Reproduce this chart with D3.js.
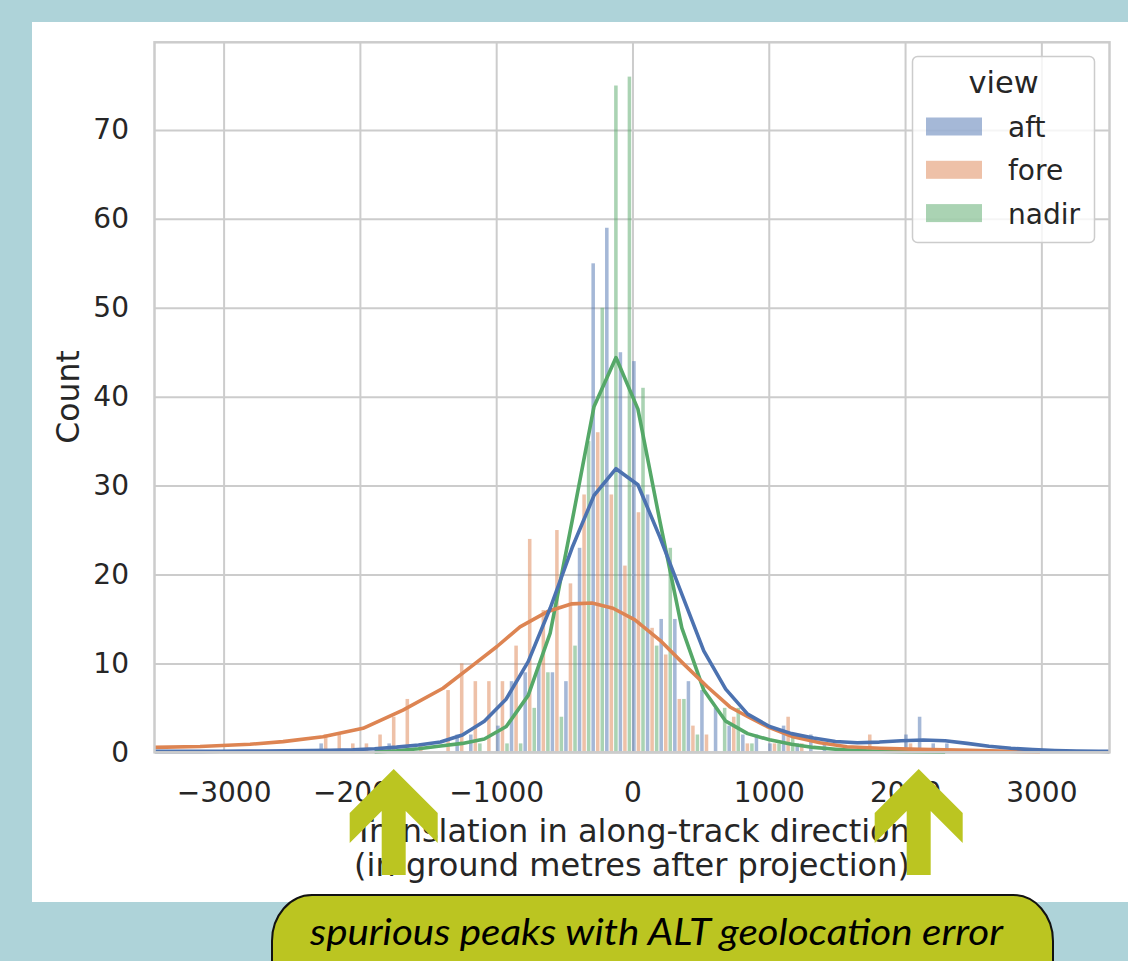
<!DOCTYPE html>
<html>
<head>
<meta charset="utf-8">
<script src="https://cdn.jsdelivr.net/npm/d3@7"></script>
<style>
  body { margin: 0; background: #aed3d9; }
  #chart { width: 1128px; height: 961px; }
</style>
</head>
<body>
<div id="chart"></div>
<script>
// histogram bins (left edges, ground metres) shared by the three views
let views = ["aft", "fore", "nadir"];
let binEdges = [-2301, -2201, -2102, -2002, -1902, -1802, -1702, -1602, -1503, -1403,
  -1303, -1203, -1103, -1004, -904, -804, -704, -604, -505, -405,
  -305, -205, -105, -6, 94, 194, 294, 394, 493, 593,
  693, 793, 893, 992, 1092, 1192, 1292, 1392, 1491, 1591,
  1691, 1791, 1891, 1990, 2090, 2190, 2290, 2390];

let aftCounts = [1, 0, 0, 0, 0, 1, 0, 0, 0, 0, 2, 2, 0, 3, 8, 9, 10, 9, 8, 23,
  55, 59, 45, 44, 29, 15, 15, 8, 7, 5, 3, 2, 2, 1, 3, 1, 2, 1, 0, 0,
  0, 0, 0, 2, 4, 1, 1];
let foreCounts = [2, 2, 1, 1, 2, 4, 6, 1, 0, 7, 10, 8, 8, 8, 12, 24, 16, 25, 19, 29,
  36, 29, 21, 27, 14, 11, 6, 3, 2, 0, 4, 1, 0, 1, 4, 1, 0, 0, 0, 0,
  2, 0, 0, 1, 0, 0, 0];
let nadirCounts = [0, 0, 0, 0, 0, 0, 0, 0, 0, 0, 0, 1, 0, 1, 1, 5, 9, 4, 12, 35,
  50, 75, 76, 41, 12, 23, 6, 2, 0, 5, 5, 1, 0, 1, 2, 0, 0, 0, 0, 0,
  0, 0, 0, 0, 0, 0, 0];

// kde curves (scaled to counts)
let kdeX = [-3502, -3341, -3180, -3019, -2858, -2697, -2536, -2375, -2214, -2053,
  -1892, -1731, -1570, -1409, -1248, -1087, -926, -765, -604, -443,
  -282, -121, 40, 201, 362, 523, 684, 845, 1006, 1167,
  1328, 1489, 1650, 1811, 1972, 2133, 2294, 2455, 2616, 2777,
  2938, 3099, 3260, 3421, 3500];
let aftKde = [0.1, 0.1, 0.1, 0.12, 0.13, 0.15, 0.17, 0.2, 0.22, 0.28,
  0.4, 0.58, 0.82, 1.15, 1.95, 3.5, 6.0, 10.2, 16.2, 23.0,
  28.9, 31.9, 30.1, 24.2, 17.8, 11.4, 7.1, 4.3, 2.9, 2.1,
  1.6, 1.22, 1.08, 1.15, 1.3, 1.38, 1.3, 1.0, 0.68, 0.45,
  0.3, 0.2, 0.15, 0.12, 0.1];
let nadirKde = [null, null, null, null, null, null, null, null, null, null,
  0.05, 0.18, 0.4, 0.7, 1.0, 1.5, 2.9, 6.4, 13.4, 26.0,
  38.9, 44.4, 38.6, 26.0, 14.0, 7.0, 3.5, 2.1, 1.4, 0.9,
  0.55, 0.35, 0.2, 0.12, 0.07, 0.04, 0.02, null, null, null,
  null, null, null, null, null];
let foreKdeX = [-3507, -3173, -2806, -2564, -2271, -1977, -1684, -1390, -1170, -994,
  -825, -627, -444, -297, -143, 18, 202, 371, 547, 715,
  847, 987, 1178, 1376, 1574, 1816, 2109, 2476, 2770, 2990];
let foreKde = [0.55, 0.65, 0.9, 1.2, 1.75, 2.7, 4.75, 7.2, 9.8, 11.9,
  14.1, 15.8, 16.7, 16.8, 16.2, 14.9, 12.6, 10.0, 7.4, 5.1,
  4.0, 2.9, 1.75, 1.08, 0.63, 0.45, 0.33, 0.22, 0.12, 0.06];

let xTicks = [-3000, -2000, -1000, 0, 1000, 2000, 3000];
let xTickLabels = ["\u22123000", "\u22122000", "\u22121000", "0", "1000", "2000", "3000"];
let yTicks = [0, 10, 20, 30, 40, 50, 60, 70];

// the two spurious peaks the note points at
let arrowTargets = [-1752, 2100];
let note = "spurious peaks with ALT geolocation error";

let colors = { aft: "#4c72b0", fore: "#dd8452", nadir: "#55a868" };
let counts = { aft: aftCounts, fore: foreCounts, nadir: nadirCounts };

let draw = () => {
  let width = 1128;
  let height = 961;
  let plot = { left: 154.5, right: 1109.5, top: 42.3, bottom: 752.3 };
  let font = "'DejaVu Sans', sans-serif";
  let ink = "#262626";

  let svg = d3
    .select("#chart")
    .append("svg")
    .attr("width", width)
    .attr("height", height)
    .attr("viewBox", `0 0 ${width} ${height}`);

  svg
    .append("rect")
    .attr("x", 32)
    .attr("y", 22)
    .attr("width", width - 32)
    .attr("height", 880)
    .attr("fill", "#ffffff");

  let xScale = d3.scaleLinear().domain([-3507, 3500]).range([plot.left, plot.right]);
  let yScale = d3.scaleLinear().domain([0, 79.86]).range([plot.bottom, plot.top]);

  // grid
  svg
    .append("g")
    .attr("transform", `translate(0, ${plot.bottom})`)
    .call(d3.axisBottom(xScale).tickValues(xTicks).tickSize(-(plot.bottom - plot.top)).tickFormat(""))
    .call((g) => g.select(".domain").remove())
    .call((g) => g.selectAll("line").attr("stroke", "#cccccc").attr("stroke-width", 2));

  svg
    .append("g")
    .attr("transform", `translate(${plot.left}, 0)`)
    .call(d3.axisLeft(yScale).tickValues(yTicks).tickSize(-(plot.right - plot.left)).tickFormat(""))
    .call((g) => g.select(".domain").remove())
    .call((g) => g.selectAll("line").attr("stroke", "#cccccc").attr("stroke-width", 2));

  // dodged bars
  let bars = svg.append("g");
  views.forEach((v, i) => {
    bars
      .selectAll(`.bar-${v}`)
      .data(counts[v].map((c, k) => ({ c, x0: binEdges[k], x1: binEdges[k + 1] })))
      .enter()
      .filter((d) => d.c > 0)
      .append("rect")
      .attr("x", (d) => {
        let w = (xScale(d.x1) - xScale(d.x0)) / 3;
        return xScale(d.x0) + i * w + 0.5;
      })
      .attr("width", (d) => (xScale(d.x1) - xScale(d.x0)) / 3 - 1)
      .attr("y", (d) => yScale(d.c))
      .attr("height", (d) => yScale(0) - yScale(d.c))
      .attr("fill", colors[v])
      .attr("fill-opacity", 0.5);
  });

  // kde lines
  let line = d3
    .line()
    .defined((d) => d[1] !== null)
    .x((d) => xScale(d[0]))
    .y((d) => yScale(d[1]));

  let kdes = [
    { v: "nadir", pts: kdeX.map((x, j) => [x, nadirKde[j]]) },
    { v: "fore", pts: foreKdeX.map((x, j) => [x, foreKde[j]]) },
    { v: "aft", pts: kdeX.map((x, j) => [x, aftKde[j]]) },
  ];
  kdes.forEach((k) => {
    svg
      .append("path")
      .datum(k.pts)
      .attr("d", line)
      .attr("fill", "none")
      .attr("stroke", colors[k.v])
      .attr("stroke-width", 3.6)
      .attr("stroke-linejoin", "round");
  });

  // frame
  svg
    .append("rect")
    .attr("x", plot.left)
    .attr("y", plot.top)
    .attr("width", plot.right - plot.left)
    .attr("height", plot.bottom - plot.top)
    .attr("fill", "none")
    .attr("stroke", "#cccccc")
    .attr("stroke-width", 2.5);

  // tick labels
  svg
    .append("g")
    .attr("transform", `translate(0, ${plot.bottom})`)
    .call(
      d3
        .axisBottom(xScale)
        .tickValues(xTicks)
        .tickSize(0)
        .tickPadding(30)
        .tickFormat((d, i) => xTickLabels[i])
    )
    .call((g) => g.select(".domain").remove())
    .call((g) => g.selectAll("text").attr("font-family", font).attr("font-size", 28).attr("fill", ink));

  svg
    .append("g")
    .attr("transform", `translate(${plot.left}, 0)`)
    .call(d3.axisLeft(yScale).tickValues(yTicks).tickSize(0).tickPadding(25.5))
    .call((g) => g.select(".domain").remove())
    .call((g) => g.selectAll("text").attr("font-family", font).attr("font-size", 28).attr("fill", ink));

  // axis titles
  svg
    .append("text")
    .attr("transform", "translate(79, 397) rotate(-90)")
    .attr("text-anchor", "middle")
    .attr("font-family", font)
    .attr("font-size", 31.5)
    .attr("fill", ink)
    .text("Count");

  let xTitle = ["Translation in along-track direction", "(in ground metres after projection)"];
  svg
    .selectAll(".xtitle")
    .data(xTitle)
    .enter()
    .append("text")
    .attr("x", (plot.left + plot.right) / 2)
    .attr("y", (d, i) => 842 + i * 34)
    .attr("text-anchor", "middle")
    .attr("font-family", font)
    .attr("font-size", 32)
    .attr("fill", ink)
    .text((d) => d);

  // legend
  let legend = svg.append("g").attr("transform", "translate(912.5, 56.5)");
  legend
    .append("rect")
    .attr("width", 182)
    .attr("height", 186)
    .attr("rx", 5)
    .attr("fill", "#ffffff")
    .attr("fill-opacity", 0.8)
    .attr("stroke", "#cccccc")
    .attr("stroke-width", 1.5);
  legend
    .append("text")
    .attr("x", 91)
    .attr("y", 36.5)
    .attr("text-anchor", "middle")
    .attr("font-family", font)
    .attr("font-size", 30.5)
    .attr("fill", ink)
    .text("view");
  let items = legend
    .selectAll(".item")
    .data(views)
    .enter()
    .append("g")
    .attr("transform", (d, i) => `translate(0, ${61 + i * 43.3})`);
  items
    .append("rect")
    .attr("x", 13.5)
    .attr("width", 56)
    .attr("height", 18)
    .attr("fill", (d) => colors[d])
    .attr("fill-opacity", 0.5);
  items
    .append("text")
    .attr("x", 95.5)
    .attr("y", 19.5)
    .attr("font-family", font)
    .attr("font-size", 28)
    .attr("fill", ink)
    .text((d) => d);

  // annotation: note box and arrows
  let accent = "#bbc521";
  svg
    .append("rect")
    .attr("x", 272)
    .attr("y", 895)
    .attr("width", 781)
    .attr("height", 120)
    .attr("rx", 40)
    .attr("ry", 46)
    .attr("fill", accent)
    .attr("stroke", "#111111")
    .attr("stroke-width", 2);
  svg
    .append("text")
    .attr("x", 656.5)
    .attr("y", 945)
    .attr("text-anchor", "middle")
    .attr("font-family", "Lato, 'Open Sans', sans-serif")
    .attr("font-style", "italic")
    .attr("font-size", 37)
    .attr("textLength", 693)
    .attr("lengthAdjust", "spacingAndGlyphs")
    .attr("fill", "#000000")
    .text(note);

  let arrow = (cx) => [
    [cx, 769], [cx + 44, 813], [cx + 44, 843], [cx + 12, 811], [cx + 12, 875],
    [cx - 12, 875], [cx - 12, 811], [cx - 44, 843], [cx - 44, 813],
  ];
  svg
    .selectAll(".arrow")
    .data(arrowTargets)
    .enter()
    .append("path")
    .attr("d", (d) => d3.line()(arrow(xScale(d))) + "Z")
    .attr("fill", accent);
};

draw();
</script>
</body>
</html>
